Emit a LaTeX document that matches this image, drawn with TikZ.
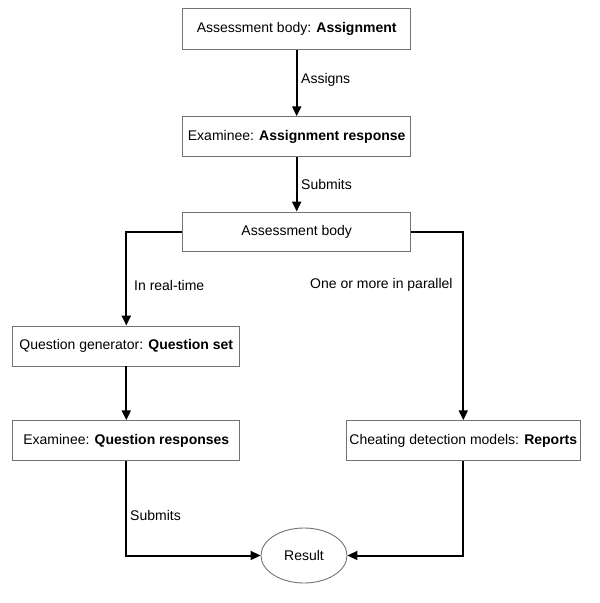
\documentclass[tikz,border=0pt]{standalone}
\usepackage{fontspec}
\setmainfont{Liberation Sans}
\usetikzlibrary{arrows.meta,shapes.geometric}
\begin{document}
\begin{tikzpicture}[x=1pt,y=-1pt,
  box/.style={draw=black!55,line width=0.9pt,fill=white,inner sep=0pt,font=\fontsize{14}{16}\selectfont},
  conn/.style={line width=2pt,-{Triangle[length=10pt,width=9pt]}},
  lbl/.style={font=\fontsize{14}{16}\selectfont,anchor=west,inner sep=0pt}]
\useasboundingbox (0,0) rectangle (600,603);
\node[box,minimum width=228pt,minimum height=41pt] (a) at (296.7,29) {Assessment body: \textbf{Assignment}};
\node[box,minimum width=228pt,minimum height=40pt] (b) at (296.7,136.7) {Examinee: \textbf{Assignment response}};
\node[box,minimum width=228pt,minimum height=39pt] (c) at (296.7,231.5) {Assessment body};
\node[box,minimum width=227pt,minimum height=40pt] (d) at (126.3,346) {Question generator: \textbf{Question set}};
\node[box,minimum width=227pt,minimum height=40pt] (e) at (126.3,440.7) {Examinee: \textbf{Question responses}};
\node[box,minimum width=234pt,minimum height=40pt] (f) at (463.3,440.7) {Cheating detection models: \textbf{Reports}};
\node[box,ellipse,minimum width=86pt,minimum height=55pt] (r) at (304,555.5) {Result};
\draw[conn] (a) -- (b);
\draw[conn] (b) -- (c);
\draw[conn] (c.west) -| (d.north);
\draw[conn] (c.east) -| (f.north);
\draw[conn] (d) -- (e);
\draw[conn] (e.south) |- (r.west);
\draw[conn] (f.south) |- (r.east);
\node[lbl] (l1) at (301,80) {Assigns};
\node[lbl] (l2) at (301,184) {Submits};
\node[lbl] (l3) at (134,285) {In real-time};
\node[lbl] (l4) at (310,285) {One or more in parallel};
\node[lbl] (l5) at (130,515) {Submits};
\end{tikzpicture}
\end{document}
